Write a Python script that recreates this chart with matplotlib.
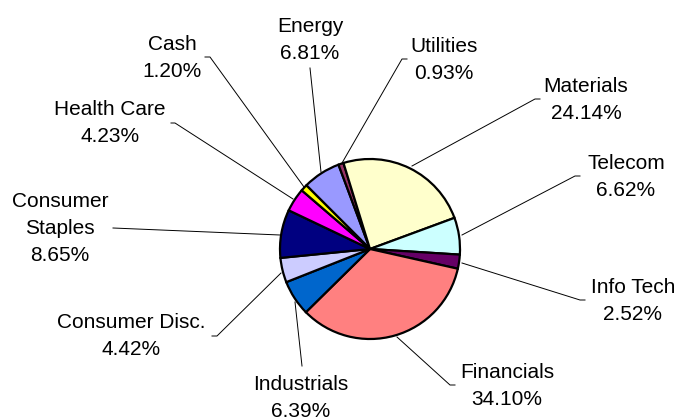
import matplotlib

matplotlib.use("Agg")
import matplotlib.pyplot as plt

# Sector weights, in the order the slices run clockwise from the Energy slice
sectors = ["Energy", "Utilities", "Materials", "Telecom", "Info Tech", "Financials",
           "Industrials", "Consumer Disc.", "Consumer\nStaples", "Health Care", "Cash"]
weights = [6.81, 0.93, 24.14, 6.62, 2.52, 34.10, 6.39, 4.42, 8.65, 4.23, 1.20]
colors = ["#9999FF", "#993366", "#FFFFCC", "#CCFFFF", "#660066", "#FF8080",
          "#0066CC", "#CCCCFF", "#000080", "#FF00FF", "#FFFF00"]

W, H = 679, 419

# Label layout in pixel coords (x centre, baseline of first line), y from top
label_pos = {
    "Energy": (310, 32),
    "Utilities": (444, 52),
    "Materials": (586, 92),
    "Telecom": (626, 169),
    "Info Tech": (633, 293),
    "Financials": (507, 378),
    "Industrials": (301, 390),
    "Consumer Disc.": (131, 328),
    "Consumer\nStaples": (60, 207),
    "Health Care": (110, 115),
    "Cash": (172, 50),
}
# leader lines, pixel coords from top
leaders = {
    "Energy": [(310, 68), (321, 172)],
    "Utilities": [(407, 59), (402, 59), (342, 163)],
    "Materials": [(540, 99), (535, 99), (412, 166)],
    "Telecom": [(580, 176), (575, 176), (462, 235)],
    "Info Tech": [(585, 300), (580, 300), (462, 263)],
    "Financials": [(455, 385), (450, 385), (397, 337)],
    "Industrials": [(302, 366), (295, 302)],
    "Consumer Disc.": [(212, 336), (217, 336), (281, 273)],
    "Consumer\nStaples": [(113, 228), (280, 235)],
    "Health Care": [(171, 123), (175, 123), (293, 199)],
    "Cash": [(205, 57), (210, 57), (304, 187)],
}

plt.rcParams["font.family"] = ["Liberation Sans", "DejaVu Sans"]

fig = plt.figure(figsize=(W / 100, H / 100), dpi=100)
ax = fig.add_axes([0, 0, 1, 1])

ax.pie(weights, colors=colors, startangle=135, counterclock=False,
       center=(370, H - 249), radius=90,
       wedgeprops=dict(edgecolor="black", linewidth=1.6))

ax.set_xlim(0, W)
ax.set_ylim(0, H)
ax.set_aspect("equal")
ax.axis("off")

line_h = 27
for name, w in zip(sectors, weights):
    # leader line
    pts = leaders[name]
    ax.plot([p[0] for p in pts], [H - p[1] for p in pts], color="black", lw=0.7)

    x, y0 = label_pos[name]
    lines = name.split("\n") + [f"{w:.2f}%"]
    for i, t in enumerate(lines):
        ax.text(x, H - (y0 + i * line_h), t, ha="center", va="baseline",
                fontsize=15, color="black")

fig.savefig("out.png", dpi=100)
